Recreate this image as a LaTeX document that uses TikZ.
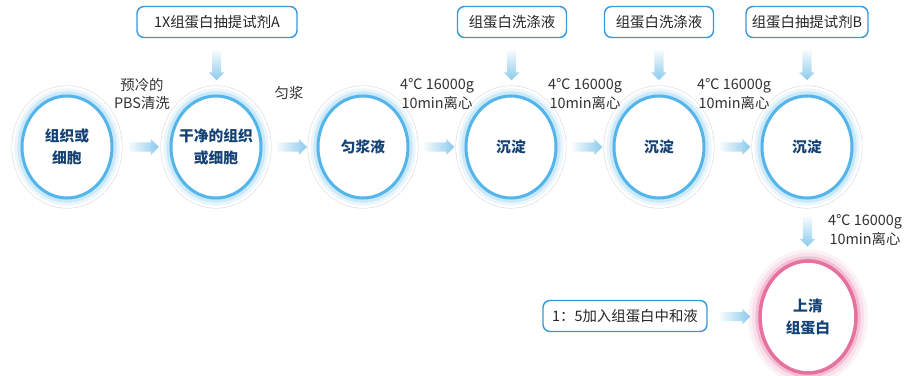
\documentclass[tikz,border=0pt]{standalone}
\usepackage{fontspec}
\setmainfont{Noto Sans CJK SC}
\usetikzlibrary{shapes.geometric,shapes.arrows,positioning,calc}
\definecolor{ringblue}{RGB}{84,181,234}
\definecolor{ringpink}{RGB}{230,112,158}
\definecolor{boxblue}{RGB}{58,152,218}
\definecolor{textblue}{RGB}{20,66,116}
\definecolor{labelgray}{RGB}{50,50,50}
\definecolor{arrowblue}{RGB}{138,202,236}

\begin{document}
\begin{tikzpicture}[x=0.03cm, y=-0.03cm,
    steptext/.style={font=\fontsize{12.3}{15.5}\selectfont, text=labelgray, align=center},
    celltext/.style={font=\fontsize{12.6}{18.5}\selectfont\bfseries, text=textblue, align=center},
    cell/.style={ellipse, minimum width=2.7cm, minimum height=3.06cm, inner sep=0pt,
        preaction={draw=black!14, line width=18pt},
        preaction={draw=white, line width=17pt},
        preaction={draw=ringblue!12, line width=13pt},
        preaction={draw=ringblue!30, line width=8pt},
        fill=white, draw=ringblue, line width=2.6pt,
        label={[celltext]center:{#1}}},
    pinkcell/.style={ellipse, minimum width=2.88cm, minimum height=3.36cm, inner sep=0pt,
        preaction={draw=ringpink!10, line width=20pt},
        preaction={draw=ringpink!22, line width=14pt},
        preaction={draw=ringpink!45, line width=8pt},
        fill=white, draw=ringpink, line width=3pt,
        label={[celltext]center:{#1}}},
    reagent/.style={draw=boxblue, line width=1.2pt, rounded corners=6pt, fill=white,
        minimum height=0.93cm, inner xsep=2pt, font=\fontsize{12.3}{15}\selectfont, text=black!85},
    rarrow/.style={single arrow, single arrow head extend=0.1cm, inner sep=0.13cm,
        minimum height=0.9cm, draw=none, left color=arrowblue!8, right color=arrowblue},
    darrow/.style={single arrow, single arrow head extend=0.1cm, inner sep=0.13cm,
        minimum height=0.9cm, draw=none, shape border rotate=270,
        top color=arrowblue!8, bottom color=arrowblue}]
    \useasboundingbox (0,0) rectangle (910,376);

    % main row of samples
    \node[cell={组织或\\细胞}] (tissue) at (67,147) {};
    \node[cell={干净的组织\\或细胞}] (clean) at (216,147) {};
    \node[cell={匀浆液}] (homog) at (363,147) {};
    \node[cell={沉淀}] (pelletA) at (511,147) {};
    \node[cell={沉淀}] (pelletB) at (659,147) {};
    \node[cell={沉淀}] (pelletC) at (807,147) {};
    \node[pinkcell={上清\\组蛋白}] (superna) at (808,317) {};

    % reagents
    \node[reagent, minimum width=4.8cm] (bufA) at (217,22) {1X组蛋白抽提试剂A};
    \node[reagent, minimum width=3.27cm] (washA) at (512,22) {组蛋白洗涤液};
    \node[reagent, minimum width=3.27cm] (washB) at (659,22) {组蛋白洗涤液};
    \node[reagent, minimum width=3.66cm] (bufB) at (807,22) {组蛋白抽提试剂B};
    \node[reagent, minimum width=4.92cm] (neutral) at (625,316) {1：5加入组蛋白中和液};

    % horizontal steps
    \path (tissue) -- (clean) node[midway, rarrow] (stepA) {};
    \path (clean) -- (homog) node[midway, rarrow] (stepB) {};
    \path (homog) -- (pelletA) node[midway, rarrow] (stepC) {};
    \path (pelletA) -- (pelletB) node[midway, rarrow] (stepD) {};
    \path (pelletB) -- (pelletC) node[midway, rarrow] (stepE) {};
    \path (neutral) -- (superna) node[midway, rarrow] (stepF) {};

    % vertical steps
    \path (bufA) -- (clean) node[pos=0.44, darrow] (addA) {};
    \path (washA) -- (pelletA) node[pos=0.44, darrow] (addB) {};
    \path (washB) -- (pelletB) node[pos=0.44, darrow] (addC) {};
    \path (bufB) -- (pelletC) node[pos=0.44, darrow] (addD) {};
    \path (pelletC) -- (superna) node[midway, darrow] (spin) {};

    % step labels
    \node[steptext] (wash) at (142,94) {预冷的\\PBS清洗};
    \node[steptext] (grind) at (289,93) {匀浆};
    \node[steptext] (spinA) at (437,94) {4℃ 16000g\\10min离心};
    \node[steptext] (spinB) at (585,94) {4℃ 16000g\\10min离心};
    \node[steptext] (spinC) at (734,94) {4℃ 16000g\\10min离心};
    \node[steptext] (spinD) at (865,230) {4℃ 16000g\\10min离心};
\end{tikzpicture}
\end{document}
